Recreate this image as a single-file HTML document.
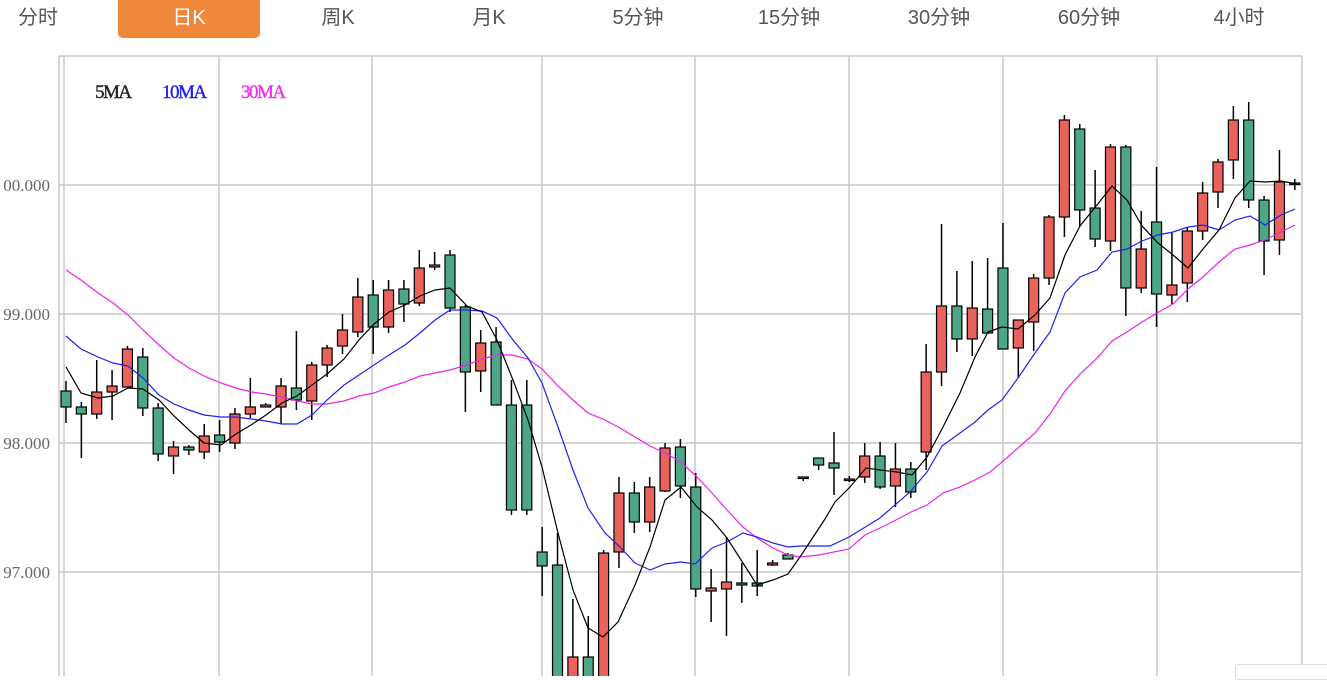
<!DOCTYPE html>
<html><head><meta charset="utf-8">
<style>
html,body{margin:0;padding:0;background:#fff;width:1327px;height:676px;overflow:hidden;}
.tab{position:absolute;top:0;height:38px;line-height:36px;font-family:"Liberation Sans","Noto Sans CJK SC",sans-serif;font-size:20px;color:#555;text-align:center;width:140px;}
.on{background:#F0883C;color:#fff;border-radius:0 0 5px 5px;}
svg{position:absolute;left:0;top:0;}
</style></head><body>
<div class="tab" style="left:-32px">分时</div>
<div class="tab on" style="left:118px;width:142px">日K</div>
<div class="tab" style="left:268px">周K</div>
<div class="tab" style="left:419px">月K</div>
<div class="tab" style="left:568px">5分钟</div>
<div class="tab" style="left:719px">15分钟</div>
<div class="tab" style="left:869px">30分钟</div>
<div class="tab" style="left:1019px">60分钟</div>
<div class="tab" style="left:1169px">4小时</div>
<svg id="s" width="1327" height="676" xmlns="http://www.w3.org/2000/svg">
<g stroke="#c8c8c8" stroke-width="1.5" fill="none">
<line x1="59" y1="56" x2="1302" y2="56"/>
<line x1="59" y1="185" x2="1302" y2="185"/>
<line x1="59" y1="314" x2="1302" y2="314"/>
<line x1="59" y1="443" x2="1302" y2="443"/>
<line x1="59" y1="572" x2="1302" y2="572"/>
<line x1="59" y1="56" x2="59" y2="676"/>
<line x1="64" y1="56" x2="64" y2="676"/>
<line x1="219" y1="56" x2="219" y2="676"/>
<line x1="372" y1="56" x2="372" y2="676"/>
<line x1="542" y1="56" x2="542" y2="676"/>
<line x1="695" y1="56" x2="695" y2="676"/>
<line x1="849" y1="56" x2="849" y2="676"/>
<line x1="1003" y1="56" x2="1003" y2="676"/>
<line x1="1157" y1="56" x2="1157" y2="676"/>
<line x1="1302" y1="56" x2="1302" y2="676"/>
</g>
<g font-family="Liberation Serif, serif" font-size="17" fill="#666" text-anchor="end">
<text x="50" y="191">00.000</text>
<text x="50" y="320">99.000</text>
<text x="50" y="449">98.000</text>
<text x="50" y="578">97.000</text>
</g>
<g font-family="Liberation Serif, serif" font-size="19" letter-spacing="-1.5" stroke-width="0.4">
<text x="95" y="98" fill="#222" stroke="#222">5MA</text>
<text x="162" y="98" fill="#2222ee" stroke="#2222ee">10MA</text>
<text x="241" y="98" fill="#ee33ee" stroke="#ee33ee">30MA</text>
</g>
<g id="cand"></g>
<polyline fill="none" stroke="#ee22ee" stroke-width="1.2" points="66,270 81,280 98,293 113,303 128,315 143,330 159,345 174,358 189,368 204,376 221,383 236,388 251,392 266,394 282,397 297,401 312,404 327,404 344,401 359,396 374,393 389,387 405,382 420,376 435,373 450,370 467,365 482,359 497,355 512,355 528,359 542,369 558,386 573,400 588,413 605,420 620,428 635,437 650,446 665,453 681,462 697,477 712,493 727,510 743,527 757,538 773,548 788,555 800,557 819,555 849,549 865,535 880,528 896,520 911,512 927,505 943,493 960,487 975,480 990,472 1002,462 1018,448 1035,433 1050,414 1065,391 1080,374 1097,358 1112,341 1127,332 1142,322 1157,313 1173,304 1188,289 1203,277 1219,262 1235,249 1250,245 1265,240 1281,232 1295,225"/>
<polyline fill="none" stroke="#2222ee" stroke-width="1.2" points="66,336 81,349 98,357 113,363 128,366 143,378 159,395 174,404 189,410 204,415 221,417 236,417 251,419 266,421 282,424 297,424 312,415 327,400 344,385 359,375 374,365 389,355 405,345 420,333 435,320 450,310 467,310 482,311 497,318 513,340 528,358 542,383 558,427 573,470 588,508 605,533 620,547 635,563 650,570 665,564 681,562 695,564 712,548 727,542 743,533 757,537 773,543 788,547 800,546 830,546 849,537 867,526 880,518 910,492 927,472 942,446 960,433 975,422 988,410 1002,400 1018,378 1035,353 1050,332 1065,293 1080,277 1097,270 1112,252 1127,249 1142,241 1158,235 1173,232 1188,227 1203,225 1219,230 1235,220 1250,216 1265,225 1281,215 1295,209"/>
<polyline fill="none" stroke="#000" stroke-width="1.2" points="66,367 81,393 98,398 113,396 128,388 143,389 159,400 174,416 189,430 204,443 221,445 236,434 251,425 266,415 282,403 297,396 312,385 327,374 344,359 359,340 374,324 389,312 405,305 420,296 435,290 450,288 467,306 482,312 497,340 513,380 528,420 542,467 558,533 573,590 588,628 603,637 618,622 635,585 650,547 665,500 681,487 697,507 712,520 727,538 743,563 757,585 773,580 788,574 800,557 825,519 835,502 850,487 866,468 880,470 897,472 912,475 927,457 943,427 960,393 975,357 988,332 1002,327 1018,329 1035,315 1050,298 1065,255 1080,226 1097,205 1112,186 1127,200 1142,226 1158,243 1173,255 1188,268 1203,249 1219,230 1235,198 1250,181 1265,182 1281,181 1297,184"/>
</svg>
<div style="position:absolute;left:1235px;top:664px;width:95px;height:14px;border:1px solid #ddd;border-radius:3px;background:#fff"></div>
<script>
var d=[[391,407,381,423,'g'],[407,414,402,458,'g'],[392,414,360,419,'r'],[386,392,370,420,'r'],[349,387,346,387,'r'],[357,408,348,416,'g'],[408,454,403,461,'g'],[447,456,441,474,'r'],[447,450,445,455,'g'],[436,452,424,459,'r'],[435,442,420,452,'g'],[414,443,408,449,'r'],[407,414,378,418,'r'],[405,407,403,407,'r'],[386,407,378,424,'r'],[388,400,331,410,'g'],[365,401,362,420,'r'],[348,365,345,377,'r'],[330,346,314,354,'r'],[297,332,278,337,'r'],[295,327,280,354,'g'],[290,327,280,333,'r'],[289,304,280,322,'g'],[268,303,250,306,'r'],[265,267,252,270,'r'],[255,308,250,312,'g'],[307,372,305,412,'g'],[343,371,330,392,'r'],[342,405,327,405,'g'],[405,510,380,515,'g'],[405,510,380,515,'g'],[552,566,527,596,'g'],[565,700,533,700,'g'],[657,700,599,700,'r'],[657,700,616,700,'g'],[553,700,550,700,'r'],[493,552,477,568,'r'],[493,522,482,533,'g'],[487,522,477,532,'r'],[448,491,443,492,'r'],[447,486,439,498,'g'],[487,589,473,597,'g'],[588,591,569,622,'r'],[582,589,537,636,'r'],[583,585,563,603,'g'],[583,586,550,596,'g'],[563,565,560,566,'r'],[555,559,553,559,'g'],[477,478,477,481,'r'],[458,465,458,470,'g'],[463,468,432,495,'g'],[479,480,476,482,'r'],[456,477,443,483,'r'],[456,487,442,489,'g'],[469,486,443,507,'r'],[469,492,462,498,'g'],[372,452,344,470,'r'],[306,372,224,386,'r'],[306,339,271,352,'g'],[308,339,261,356,'r'],[309,333,258,333,'g'],[268,349,223,349,'g'],[320,348,320,378,'r'],[278,322,274,351,'r'],[217,278,215,285,'r'],[120,217,115,237,'r'],[129,210,124,226,'g'],[208,239,170,247,'g'],[147,241,144,251,'r'],[147,288,145,316,'g'],[249,288,211,293,'r'],[222,294,167,327,'g'],[285,295,232,304,'r'],[231,283,228,302,'r'],[193,231,182,240,'r'],[162,192,159,208,'r'],[120,160,106,179,'r'],[120,200,102,208,'g'],[200,241,196,275,'g'],[182,240,150,255,'r'],[183,184,179,190,'r']];
var h='';
for(var i=0;i<d.length;i++){var x=66+i*15.36,c=d[i];
h+='<line x1="'+x+'" x2="'+x+'" y1="'+c[2]+'" y2="'+c[3]+'" stroke="#000" stroke-width="1.5"/>';
var ht=Math.max(c[1]-c[0],1.5);
h+='<rect x="'+(x-5)+'" y="'+c[0]+'" width="10" height="'+ht+'" fill="'+(c[4]=='r'?'#EA625C':'#4DA685')+'" stroke="#000" stroke-width="1.2"/>';}
document.getElementById('cand').innerHTML=h;
</script>
</body></html>
